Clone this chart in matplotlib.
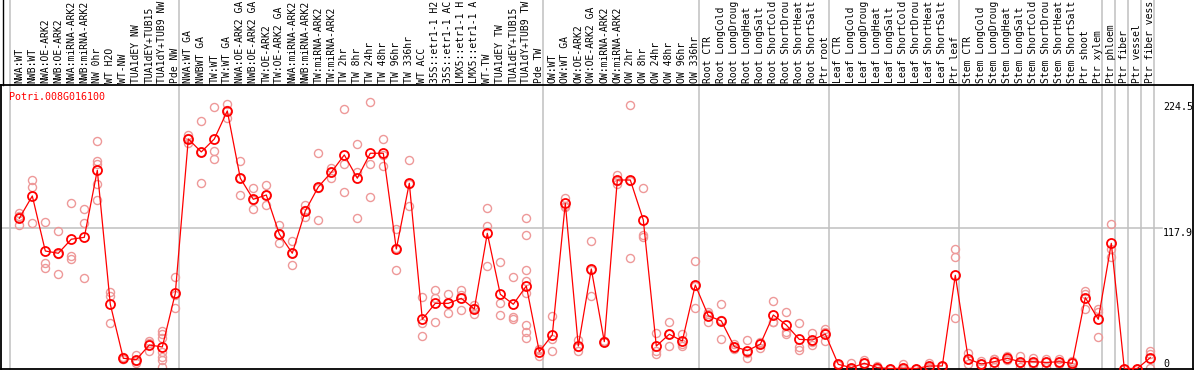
import numpy as np
import matplotlib.pyplot as plt
from matplotlib.lines import Line2D

gene = 'Potri.008G016100'

# sample names as far as they show in the header (long ones are cut there)
labels = ['NWA:WT', 'NWB:WT', 'NWA:OE-ARK2', 'NWB:OE-ARK2', 'NWA:miRNA-ARK2', 'NWB:miRNA-ARK2',
          'NW 0hr', 'WT H2O', 'WT-NW', 'TUA1dEY NW', 'TUA1dEY+TUB15', 'TUA1dY+TUB9 NW', 'Pde NW',
          'NWA:WT GA', 'NWBWT GA', 'TW:WT', 'TW:WT GA', 'NWA:OE-ARK2 GA', 'NWB:OE-ARK2 GA',
          'TW:OE-ARK2', 'TW:OE-ARK2 GA', 'NWA:miRNA-ARK2', 'NWB:miRNA-ARK2', 'TW:miRNA-ARK2',
          'TW:miRNA-ARK2', 'TW 2hr', 'TW 8hr', 'TW 24hr', 'TW 48hr', 'TW 96hr', 'TW 336hr', 'WT ACC',
          '35S::etr1-1 H2', '35S::etr1-1 AC', 'LMX5::etr1-1 H', 'LMX5::etr1-1 A', 'WT-TW',
          'TUA1dEY TW', 'TUA1dEY+TUB15', 'TUA1dY+TUB9 TW', 'Pde TW',
          'OW:WT', 'OW:WT GA', 'OW:OE-ARK2', 'OW:OE-ARK2 GA', 'OW:miRNA-ARK2', 'OW:miRNA-ARK2',
          'OW 2hr', 'OW 8hr', 'OW 24hr', 'OW 48hr', 'OW 96hr', 'OW 336hr',
          'Root CTR', 'Root LongCold', 'Root LongDroug', 'Root LongHeat', 'Root LongSalt',
          'Root ShortCold', 'Root ShortDrou', 'Root ShortHeat', 'Root ShortSalt', 'Ptr root',
          'Leaf CTR', 'Leaf LongCold', 'Leaf LongDroug', 'Leaf LongHeat', 'Leaf LongSalt',
          'Leaf ShortCold', 'Leaf ShortDrou', 'Leaf ShortHeat', 'Leaf ShortSalt', 'Ptr leaf',
          'Stem CTR', 'Stem LongCold', 'Stem LongDroug', 'Stem LongHeat', 'Stem LongSalt',
          'Stem ShortCold', 'Stem ShortDrou', 'Stem ShortHeat', 'Stem ShortSalt', 'Ptr shoot',
          'Ptr xylem', 'Ptr phloem', 'Ptr fiber', 'Ptr vessel', 'Ptr fiber vess']

# first sample index of each experiment block (last entry = end)
group_starts = [0, 13, 41, 53, 63, 73, 84, 85, 86, 87, 88]

means = [126.3, 145.1, 98.8, 96.9, 108.7, 110.3, 166.7, 54.0, 8.6, 7.4, 19.8, 18.1, 63.2,
         193.0, 182.1, 193.0, 216.6, 160.0, 142.3, 145.9, 113.1, 96.9, 132.5, 152.7, 165.0,
         179.6, 160.0, 181.0, 181.0, 100.5, 155.8, 41.4, 54.8, 54.8, 59.0, 50.0, 113.7, 62.4,
         54.0, 69.4, 14.1,
         28.2, 138.9, 18.9, 83.7, 22.6, 158.5, 158.5, 124.9, 18.9, 28.8, 23.1, 70.2,
         44.4, 40.0, 18.4, 15.0, 20.4, 45.0, 36.6, 24.5, 24.0, 29.0,
         3.5, 0.7, 4.4, 0.7, 0.0, 0.2, 0.0, 2.1, 2.1, 78.4,
         8.0, 3.8, 5.7, 8.6, 5.7, 5.7, 5.1, 5.7, 4.4, 59.6, 41.4,
         105.3, 0.0, 0.0, 9.1]

reps = [[130.5, 128.5, 120.7], [158.5, 152.9, 122.1], [123.0, 88.5, 84.3], [115.6, 79.2, 96.0],
        [138.9, 94.9, 92.1], [133.9, 122.6, 75.9], [191.3, 174.5, 172.0, 154.9, 141.5],
        [64.1, 61.2, 38.3], [9.5, 8.0, 8.3], [11.4, 4.4, 6.4], [23.1, 14.7, 21.5],
        [31.5, 28.8, 25.4, 14.1, 9.9, 7.1, 1.5], [76.7, 50.6, 62.0],
        [196.4, 194.0, 189.4], [208.2, 155.8, 182.0], [219.7, 182.9, 176.2], [222.5, 210.4, 217.0],
        [174.5, 145.9, 160.0], [151.5, 133.9, 141.5], [154.3, 137.5, 146.0], [120.7, 105.3, 113.0],
        [107.2, 86.8, 97.0], [137.5, 127.2, 133.0], [181.0, 124.9, 152.0], [168.9, 160.5, 165.6],
        [218.2, 171.7, 148.2], [188.6, 165.0, 126.3], [224.5, 171.7, 144.0], [193.0, 179.6, 170.0],
        [117.3, 82.8, 101.0], [175.4, 136.7, 155.0], [60.1, 38.0, 27.3], [66.0, 59.0, 38.9],
        [62.4, 46.9, 55.0], [66.0, 48.9, 62.0], [53.4, 46.1, 50.5], [134.7, 119.8, 86.2],
        [89.3, 54.8, 45.0], [76.7, 43.6, 41.4],
        [126.3, 112.0, 82.6, 73.6, 63.2, 36.6, 31.0, 25.4], [15.6, 10.8, 16.0],
        [44.2, 24.8, 14.7], [143.7, 136.1, 137.0], [24.0, 14.7, 18.0], [107.2, 61.0, 83.0],
        [23.0, 22.0, 22.8], [162.7, 154.9, 158.0], [222.0, 92.9, 157.6], [151.5, 112.3, 110.9],
        [29.6, 14.7, 11.9], [38.9, 18.9, 28.6], [28.8, 20.4, 18.9], [90.4, 50.6, 69.6],
        [47.8, 38.9, 46.0], [54.0, 24.8, 41.0], [20.4, 16.4, 18.4], [23.7, 8.6, 13.0],
        [22.5, 17.0, 21.7], [56.8, 38.9, 39.3], [47.3, 31.0, 28.8], [38.0, 18.4, 15.6],
        [29.6, 19.8, 22.6], [33.2, 23.1, 30.7],
        [3.5, 3.8, 3.2], [4.4, 0.2, 0.0], [7.1, 1.5, 4.6], [1.9, 0.0, 0.3], [0.0, 0.0, 0.0],
        [3.5, 0.0, 0.0], [0.0, 0.0, 0.0], [4.9, 0.5, 1.0], [2.0, 2.2, 2.1], [100.3, 93.5, 42.2],
        [12.8, 3.5, 7.7], [6.3, 1.5, 3.6], [8.0, 1.5, 7.6], [10.8, 7.1, 8.0], [10.8, 1.5, 4.8],
        [9.0, 3.0, 5.0], [8.0, 1.5, 5.8], [8.0, 3.5, 5.6], [6.3, 1.5, 5.4], [65.2, 62.4, 50.0],
        [50.0, 47.8, 26.2], [121.3, 100.3, 93.5], [0.0, 0.0, 0.0], [0.0, 0.0, 0.0],
        [14.7, 11.9, 0.5]]

ytick_vals = [0, 117.9, 224.5]
ytick_labels = ['0', '117.9', '224.5']

plt.rcParams['font.family'] = 'DejaVu Sans Mono'
W, H = 1194, 370
fig = plt.figure(figsize=(W / 100, H / 100), dpi=100)
# plot box in pixels: x 1..1193, y 85..369 (from top)
ax = fig.add_axes([1 / W, 1 / H, 1192 / W, 284 / H])

x = np.arange(len(means))
rx = [i for i, r in enumerate(reps) for _ in r]
ry = [v for r in reps for v in r]
ax.plot(rx, ry, linestyle='none', marker='o', markersize=5.8, markerfacecolor='none',
        markeredgecolor='#ee9999', markeredgewidth=1.0, zorder=2, clip_on=False)
ax.plot(x, means, color='red', linewidth=0.9, marker='o', markersize=6.5,
        markerfacecolor='none', markeredgecolor='red', markeredgewidth=1.3, zorder=3,
        clip_on=False)

ax.set_xlim(-1.408, 90.285)
ax.set_ylim(-0.42, 238.4)

# block separators, running up through the label header
for g in group_starts:
    ax.plot([g - 0.69, g - 0.69], [0, 1 + 85 / 284], transform=ax.get_xaxis_transform(),
            color='#c0c0c0', linewidth=1.1, clip_on=False, zorder=1)
ax.axhline(117.9, xmin=0, xmax=1161 / 1192, color='#c0c0c0', linewidth=1.1, zorder=1)

ax.xaxis.tick_top()
ax.set_xticks(x)
ax.set_xticklabels(labels, rotation=90, fontsize=7.0)
ax.tick_params(axis='x', length=0, pad=1.5)

ax.yaxis.tick_right()
ax.set_yticks(ytick_vals)
ax.set_yticklabels(ytick_labels, fontsize=7.2)
ax.tick_params(axis='y', length=0, pad=-21.6)
for t in ax.get_yticklabels():
    t.set_horizontalalignment('left')
    t.set_verticalalignment('bottom' if t.get_text() == '0' else 'top')

for s in ax.spines.values():
    s.set_color('black')
    s.set_linewidth(1.3)

# left border of the header strip
fig.add_artist(Line2D([2.5 / W, 2.5 / W], [1 - 85 / H, 1], color='black', linewidth=1.0))

fig.text(9 / W, 1 - 97 / H, gene, color='red', fontsize=7.2, va='center', ha='left')

plt.savefig('out.png', dpi=100)
